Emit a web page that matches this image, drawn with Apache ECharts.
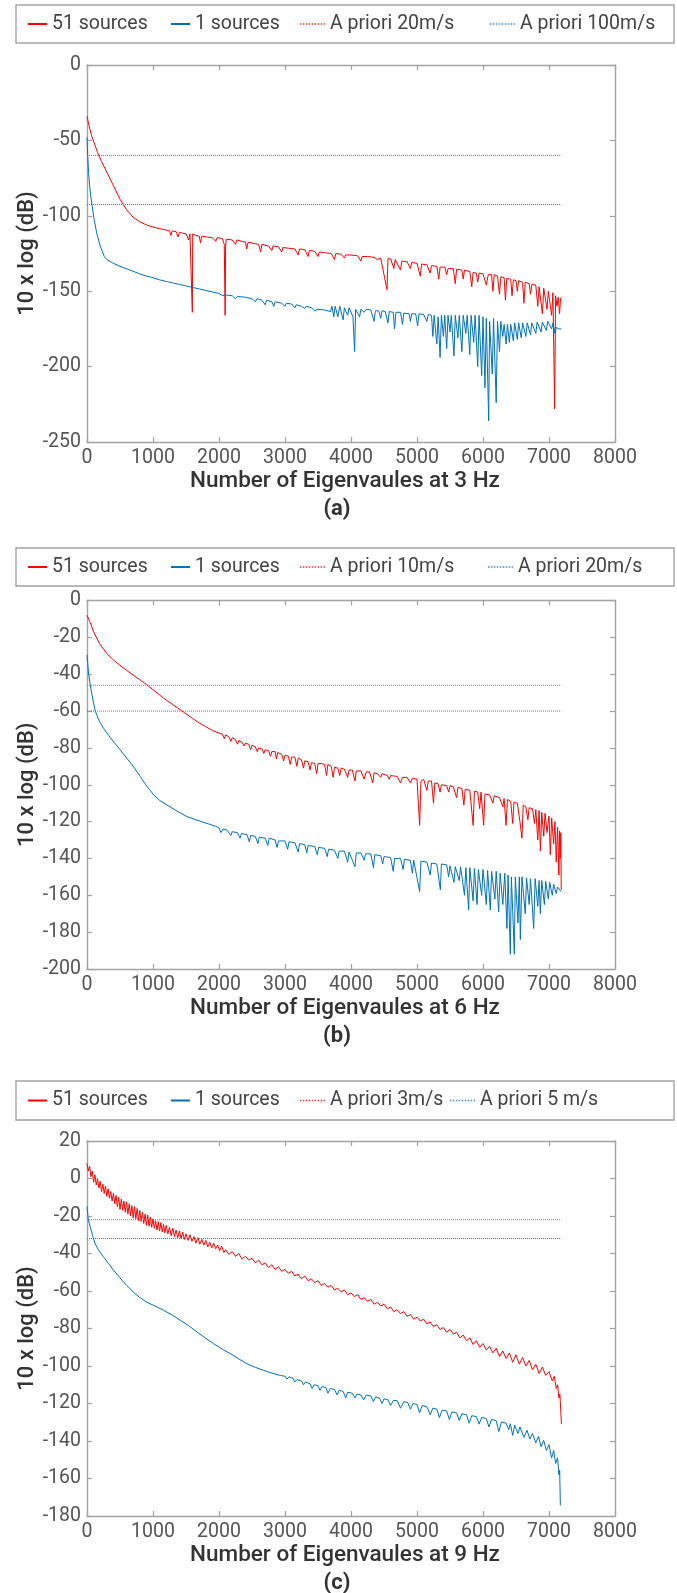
<!DOCTYPE html>
<html>
<head>
<meta charset="utf-8">
<script src="https://cdn.jsdelivr.net/npm/echarts@6/dist/echarts.min.js"></script>
<style>
html, body { margin: 0; padding: 0; background: #fff; }
#chart { width: 677px; height: 1593px; }
</style>
</head>
<body>
<div id="chart"></div>
<script>
// ---- data: [eigenvalue index, 10 x log (dB)] ----
var a51 = [[0,-34],[30,-40],[70,-47],[120,-53],[160,-58],[220,-64],[300,-71],[400,-80],[500,-89],[600,-96],[700,-101],[800,-104],[900,-106],[1000,-107.5],[1100,-108.5],[1200,-109.5],
  [1250,-110],[1270,-113],[1290,-110],[1350,-110.5],[1380,-114],[1400,-111],[1450,-111.5],[1500,-112],[1540,-116],[1560,-112],[1590,-112],[1596,-164],[1602,-112],[1650,-113],[1700,-113.5],[1720,-118],[1740,-113.5],[1800,-114],[1900,-114.5],[1950,-117],[1970,-114.5],[2050,-115],[2080,-119],[2093,-166],[2100,-120],[2110,-115.5],[2200,-116],[2250,-119],[2270,-116],[2350,-117],[2400,-117.5],[2420,-122],[2440,-117.5],[2550,-118.5],[2600,-119],[2630,-124],[2650,-119],[2750,-120],[2800,-123],[2820,-120],[2900,-120.5],[2950,-124],[2970,-121],[3050,-121.5],[3150,-122],[3200,-126],[3220,-122],[3300,-122.5],[3350,-127],[3370,-123],[3450,-123.5],[3500,-127],[3520,-124],[3600,-124.5],[3700,-125],[3750,-129],[3770,-125],[3850,-125.5],[3900,-128],[3920,-126],[4000,-126],[4100,-126.5],[4150,-130],[4170,-127],[4250,-127],[4350,-127.5],[4400,-129],[4450,-128],[4545,-149],[4560,-128.5],[4600,-128.5],[4650,-135],[4670,-129],[4700,-129.5],[4750,-136],[4770,-130],[4850,-130.5],[4900,-135],[4920,-131],[5000,-131.5],[5050,-140],[5070,-132],[5150,-132.5],[5200,-138],[5220,-133],[5300,-133.5],[5330,-142],[5350,-134],[5420,-134],[5450,-139],[5470,-135],[5550,-135],[5580,-145],[5600,-135.5],[5680,-136],[5700,-142],[5720,-136],[5800,-137],[5830,-147],[5850,-137.5],[5900,-138],[5920,-144],[5940,-138],[6000,-138.5],[6050,-146],[6080,-139],[6130,-139],[6150,-150],[6170,-139],[6220,-140],[6250,-152],[6270,-140.5],[6320,-141],[6340,-156],[6360,-141.5],[6420,-142],[6440,-153],[6460,-142.5],[6500,-143],[6520,-150],[6540,-143],[6600,-144],[6620,-158],[6640,-144],[6700,-145],[6720,-152],[6740,-145.5],[6800,-146],[6830,-160],[6850,-147],[6880,-148],[6900,-165],[6920,-148],[6950,-149],[6970,-162],[6990,-150],[7020,-151],[7040,-166],[7060,-151],[7085,-228],[7100,-153],[7120,-160],[7140,-154],[7160,-165],[7175,-155],[7188,-154]];

var a1 = [[0,-48],[10,-60],[25,-72],[40,-80],[60,-88],[80,-94],[110,-103],[150,-112],[200,-120],[262,-127],[300,-129],[400,-131.5],[500,-133.5],[650,-136],[800,-138.5],[900,-140],[1000,-141],[1100,-142.5],[1200,-143.5],[1300,-144.5],[1400,-145.5],[1500,-146.5],[1600,-147.5],[1700,-148.5],[1800,-149.5],[1900,-150.5],[2000,-151.5],[2050,-153],[2100,-152.5],[2200,-153],[2250,-155],[2280,-153.5],[2400,-154],[2500,-155],[2550,-157],[2580,-155],[2650,-156],[2700,-159],[2720,-156],[2800,-157],[2830,-160],[2850,-157],[2950,-158],[3000,-160],[3020,-158],[3100,-158.5],[3150,-161],[3170,-159],[3250,-160],[3300,-161.5],[3320,-160],[3400,-161],[3450,-163],[3500,-162],[3600,-162.5],[3690,-163.5],[3710,-160],[3740,-167],[3760,-160],[3800,-167],[3830,-160],[3850,-161],[3880,-169],[3900,-161],[3950,-166],[3970,-161],[4000,-162],[4030,-167],[4055,-190],[4070,-162],[4100,-162],[4130,-167],[4150,-162],[4200,-164],[4230,-162],[4300,-162.5],[4350,-170],[4370,-163],[4420,-163],[4450,-168],[4470,-163],[4520,-163.5],[4560,-171],[4580,-163.5],[4640,-164],[4660,-175],[4680,-164],[4750,-164],[4780,-172],[4800,-164.5],[4880,-165],[4900,-170],[4920,-165],[4980,-165],[5010,-173],[5030,-165],[5100,-165.5],[5150,-170],[5170,-165.5],[5220,-166],[5240,-180],[5260,-166],[5300,-185],[5320,-167],[5350,-194],[5370,-166],[5400,-180],[5420,-166],[5450,-188],[5470,-166],[5500,-177],[5520,-166],[5560,-193],[5580,-166],[5620,-181],[5640,-166],[5680,-190],[5700,-166],[5740,-178],[5760,-166],[5800,-192],[5820,-166],[5860,-184],[5880,-166],[5920,-200],[5940,-166],[5980,-206],[6000,-167],[6030,-214],[6050,-168],[6086,-236],[6100,-170],[6140,-205],[6160,-168],[6200,-224],[6220,-170],[6250,-190],[6270,-170],[6300,-180],[6320,-172],[6350,-185],[6370,-172],[6400,-184],[6420,-172],[6460,-183],[6480,-171],[6520,-182],[6540,-171],[6580,-181],[6600,-171],[6650,-180],[6670,-171],[6720,-179],[6740,-171],[6800,-178],[6820,-170.5],[6880,-177],[6900,-170.5],[6960,-176],[6980,-170],[7040,-175],[7060,-171],[7090,-178],[7110,-174],[7150,-175],[7188,-175]];

var b51 = [[0,-8],[50,-12],[100,-17],[200,-24],[300,-28.8],[400,-32.3],[500,-35.2],[600,-37.9],[700,-40.5],[800,-43],[900,-45.6],[1000,-48.4],[1100,-51.3],[1200,-54],[1300,-56.5],[1400,-59],[1500,-61.5],[1600,-64],[1700,-66.5],[1800,-68.5],[1900,-70.5],[2000,-72],
  [2050,-72.5],[2080,-75],[2100,-73],[2150,-74],[2180,-76.5],[2200,-74.5],[2250,-75.5],[2280,-78],[2300,-76],[2350,-77],[2380,-79],[2400,-77.5],[2450,-78],[2480,-81],[2500,-78.5],[2550,-79.5],[2580,-82],[2600,-80],[2650,-80.5],[2680,-83],[2700,-81],[2750,-81.5],[2780,-84.5],[2800,-82],[2850,-82],[2870,-86],[2890,-82.5],[2950,-83.5],[2980,-87],[3000,-84],[3050,-84.5],[3080,-89],[3100,-85],[3150,-85],[3180,-90],[3200,-85.5],[3250,-86.5],[3280,-91],[3300,-87],[3350,-87.5],[3380,-92],[3400,-88],[3450,-88.5],[3480,-94],[3500,-88.5],[3550,-88.5],[3600,-89],[3630,-95],[3650,-89],[3700,-90],[3730,-96],[3750,-90.5],[3800,-91],[3830,-95],[3850,-91],[3900,-91.5],[3950,-96],[3970,-92],[4020,-92],[4060,-98],[4080,-92.5],[4150,-92.5],[4200,-97],[4230,-93],[4280,-93],[4330,-99],[4350,-93.5],[4400,-94],[4450,-96],[4470,-94],[4550,-95],[4580,-97],[4600,-95],[4700,-95.5],[4750,-99],[4780,-96],[4850,-96],[4900,-99],[4930,-96.5],[5000,-97],[5040,-122],[5060,-98],[5100,-97],[5150,-103],[5170,-98],[5220,-98],[5250,-110],[5270,-99],[5320,-99.5],[5350,-104],[5370,-100],[5450,-100.5],[5480,-104],[5500,-100.5],[5550,-101],[5600,-107],[5620,-101.5],[5680,-102],[5710,-111],[5730,-102.5],[5800,-103],[5850,-122],[5870,-103.5],[5920,-104],[5950,-113],[5970,-104],[6000,-104.5],[6010,-122],[6030,-105],[6100,-105.5],[6150,-110],[6170,-106],[6250,-107],[6300,-112],[6320,-107.5],[6350,-122],[6370,-108],[6420,-109],[6450,-121],[6470,-109.5],[6520,-110],[6560,-120],[6590,-129],[6610,-111],[6650,-112],[6680,-119],[6700,-112.5],[6750,-113],[6780,-121],[6800,-113.5],[6830,-130],[6850,-114],[6870,-136],[6890,-115],[6920,-128],[6940,-115.5],[6970,-126],[7000,-117],[7020,-138],[7040,-118],[7070,-132],[7090,-120],[7110,-142],[7130,-123],[7150,-149],[7160,-125],[7170,-140],[7180,-126],[7185,-157]];

var b1 = [[0,-29.5],[25,-40],[50,-46],[90,-54],[126,-60],[180,-65],[253,-69.5],[330,-73.3],[404,-76.7],[500,-81],[606,-85.7],[700,-90],[808,-95.5],[900,-100.5],[1010,-105.5],[1100,-108.5],[1212,-111],[1350,-114],[1515,-117.3],[1650,-119],[1818,-121],[1950,-122.5],[2000,-123.5],[2030,-126],[2060,-124],[2121,-124.6],[2180,-127.5],[2200,-125.5],[2280,-126],[2320,-129],[2340,-126.5],[2424,-127],[2460,-131],[2480,-127.5],[2550,-128],[2590,-132],[2610,-128.5],[2700,-129],[2740,-133],[2760,-129],[2850,-130],[2880,-134],[2900,-130.5],[3000,-130.5],[3040,-135],[3060,-131],[3150,-131.5],[3200,-136.5],[3220,-132],[3300,-132.5],[3330,-137],[3350,-133],[3450,-133.5],[3490,-138],[3510,-134],[3600,-134.5],[3640,-139],[3660,-135],[3750,-135.5],[3800,-140],[3820,-136],[3900,-136],[3950,-142],[3970,-136.5],[4060,-144.5],[4080,-137],[4150,-137],[4200,-141],[4220,-137.5],[4300,-137.5],[4340,-145],[4360,-138],[4450,-138.5],[4480,-143],[4500,-139],[4600,-139.5],[4640,-147],[4660,-140],[4750,-140],[4790,-146],[4810,-140.5],[4900,-141],[4930,-148],[4950,-141],[5040,-158],[5060,-141.5],[5150,-142],[5200,-149],[5220,-142.5],[5300,-143],[5354,-157],[5370,-143],[5450,-143.5],[5480,-150],[5500,-144],[5560,-153],[5580,-144.5],[5640,-152],[5660,-144.5],[5720,-160],[5740,-145],[5783,-168],[5800,-145],[5850,-163],[5870,-145.5],[5910,-165],[5930,-146],[5980,-160],[6000,-146],[6050,-165],[6070,-146.5],[6111,-168],[6130,-147],[6180,-162],[6200,-147],[6237,-169],[6260,-148],[6300,-165],[6330,-148],[6363,-178],[6380,-149],[6414,-192],[6430,-150],[6475,-192],[6490,-150],[6530,-175],[6550,-150],[6566,-184],[6590,-150],[6640,-170],[6660,-150.5],[6700,-165],[6720,-151],[6768,-178],[6790,-151],[6830,-166],[6850,-152],[6869,-170],[6890,-152],[6930,-165],[6950,-152.5],[6990,-162],[7010,-153],[7050,-160],[7070,-154],[7110,-159],[7130,-155.5],[7185,-158]];

var c51 = [[0,8],[20,4],[40,6.5],[60,1],[80,4],[100,-2],[120,2],[140,-3.5],[160,0],[180,-5],[200,-1.5],[220,-7],[240,-3],[260,-8],[280,-4],[300,-9.5],[320,-5.5],[340,-10.5],[360,-7],[380,-12],[400,-8],[420,-13.5],[440,-9],[460,-15],[480,-10],[500,-16.5],[520,-11],[540,-17],[560,-12],[580,-18],[600,-12.5],[620,-19],[640,-13.5],[660,-20],[680,-14.5],[700,-21],[720,-15],[740,-21.5],[760,-16],[780,-22.5],[800,-17],[820,-23],[840,-18],[860,-24],[880,-19],[900,-25],[920,-19.5],[940,-25.5],[960,-20.5],[980,-26],[1000,-21.5],[1020,-26.5],[1040,-22.5],[1060,-27.5],[1080,-23],[1100,-28],[1120,-23.5],[1140,-28.5],[1160,-24.5],[1180,-29],[1200,-25],[1225,-29.5],[1250,-26],[1275,-30.5],[1300,-26.5],[1325,-31],[1350,-27.5],[1375,-31.5],[1400,-28],[1425,-32],[1450,-28.5],[1475,-32.5],[1500,-29.5],[1530,-33],[1560,-30],[1590,-33.5],[1620,-31],[1650,-34.5],[1680,-31.5],[1710,-35],[1740,-32.5],[1770,-35.5],[1800,-33],[1830,-36.5],[1860,-34],[1890,-37],[1920,-34.5],[1950,-37.5],[1980,-35.5],[2010,-38.5],[2040,-36],
  [2075,-39.5],[2100,-38],[2150,-40.5],[2200,-39],[2250,-41.5],[2300,-40],[2350,-43],[2400,-41.5],[2450,-43.5],[2500,-42.5],[2550,-45],[2600,-43.5],[2650,-46],[2700,-45],[2750,-47.5],[2800,-46],[2850,-48.5],[2900,-47],[2950,-49.5],[3000,-48.5],[3050,-50.5],[3100,-49.5],[3150,-52],[3200,-51],[3250,-53.5],[3300,-52],[3350,-54.5],[3400,-53.5],[3450,-55.5],[3500,-54.5],[3550,-57],[3600,-56],[3650,-58],[3700,-57],[3750,-59.5],[3800,-58.5],[3850,-60.5],[3900,-59.5],[3950,-62],[4000,-61],[4050,-63],[4100,-62],[4150,-64.5],[4200,-63.5],[4250,-65.5],[4300,-64.5],[4350,-67],[4400,-66],[4450,-68],[4500,-67],[4550,-69.5],[4600,-68.5],[4650,-71],[4700,-70],[4750,-72],[4800,-71],[4850,-73.5],[4900,-72.5],[4950,-75],[5000,-74],[5050,-76],[5100,-75],[5150,-77.5],[5200,-76.5],[5250,-79],[5300,-78],[5350,-80.5],[5400,-79.5],[5450,-82],[5500,-80.5],[5550,-83],[5600,-82],[5650,-85],[5700,-83.5],[5750,-86.5],[5800,-85],[5850,-88.5],[5900,-86.5],[5950,-90],[6000,-88],[6050,-91.5],[6100,-89.5],[6150,-93],[6200,-90.5],[6250,-95],[6300,-92],[6350,-96],[6400,-93],[6450,-98],[6500,-94],[6550,-99],[6600,-95.5],[6650,-100],[6700,-97],[6750,-102],[6800,-99],[6850,-104],[6900,-100.5],[6950,-105],[7000,-103],[7050,-108],[7080,-105.5],[7110,-112],[7130,-110],[7150,-117],[7165,-115],[7180,-125],[7188,-131]];

var c1 = [[0,-15],[20,-22],[50,-26],[90,-31],[126,-35],[180,-38.5],[253,-42],[330,-45.5],[404,-49],[500,-53],[600,-57],[700,-60.5],[800,-63.5],[909,-66],[1030,-68],[1162,-70.3],[1290,-72.8],[1414,-75.6],[1540,-78.5],[1667,-81.9],[1790,-85],[1919,-88.1],[2050,-91],[2172,-93.4],[2300,-96.2],[2424,-98.8],[2550,-100.7],[2677,-102.3],[2800,-103.8],[2929,-105],[3000,-105.5],[3030,-107],[3060,-105.8],[3120,-106.5],[3150,-108.5],[3182,-107.2],[3250,-108],[3280,-110],[3310,-108.5],[3380,-109.5],[3410,-112],[3440,-110],[3500,-110.5],[3530,-113],[3560,-111],[3620,-111.5],[3650,-114.5],[3687,-112],[3750,-112.5],[3790,-115.5],[3820,-113],[3880,-113.5],[3920,-117],[3950,-114],[4020,-114.5],[4060,-117],[4090,-115],[4150,-115.5],[4192,-118],[4230,-115.5],[4300,-116],[4340,-119],[4370,-116.5],[4430,-117],[4470,-120],[4500,-117.5],[4560,-118],[4600,-121],[4646,-118.3],[4700,-118.5],[4750,-122.5],[4800,-119],[4860,-119.5],[4900,-123],[4940,-120],[5000,-120.5],[5040,-125],[5080,-121],[5152,-121.9],[5200,-126],[5240,-122.5],[5300,-123],[5340,-127.5],[5380,-123.5],[5450,-124],[5490,-128.5],[5530,-124.5],[5600,-125],[5640,-129],[5680,-125.5],[5750,-126],[5790,-130.5],[5830,-126.5],[5900,-127],[5940,-131],[5980,-127.5],[6050,-128],[6090,-132.5],[6130,-128.5],[6200,-129.2],[6240,-135],[6280,-129.8],[6350,-130.5],[6390,-134],[6414,-130.8],[6450,-137],[6480,-131.5],[6530,-136],[6560,-132.5],[6620,-138],[6667,-134.3],[6710,-139],[6750,-136],[6800,-141],[6840,-137.5],[6880,-143],[6919,-139.6],[6960,-145],[7000,-142],[7040,-149],[7071,-145],[7100,-152],[7130,-149],[7150,-158],[7162,-155.6],[7172,-174.3]];

// a priori levels (dB) per panel: [red, blue]
var aPriori = [-60, -92.5];
var bPriori = [-46, -60];
var cPriori = [-22, -32];
var prioriEnd = 7188;

var aNames = ['51 sources', '1 sources', 'A priori 20m/s', 'A priori 100m/s'];
var bNames = ['51 sources', '1 sources', 'A priori 10m/s', 'A priori 20m/s'];
var cNames = ['51 sources', '1 sources', 'A priori 3m/s', 'A priori 5 m/s'];

var xTitles = ['Number of Eigenvaules at 3 Hz', 'Number of Eigenvaules at 6 Hz', 'Number of Eigenvaules at 9 Hz'];
var captions = ['(a)', '(b)', '(c)'];
var yRanges = [[-250, 0, 50], [-200, 0, 20], [-180, 20, 20]];
var xRange = [0, 8000, 1000];

// ---- layout ----
var FONT = 'Roboto';
var RED = '#ff0000', BLUE = '#0072bd';
var PRED = '#ff4a4a', PBLUE = '#5c5cff';
var AXIS = '#a3a3a3';
var DOT_ICON = 'path://M0,0h2v2h-2z M4,0h2v2h-2z M8,0h2v2h-2z M12,0h2v2h-2z M16,0h2v2h-2z M20,0h2v2h-2z M24,0h2v2h-2z M28,0h2v2h-2z M32,0h2v2h-2z';

var layout = [
  { top: 65, height: 377, legendY: 5, legendH: 38, iconX: [28, 171, 300, 490], titleY: 481, capY: 509 },
  { top: 600.5, height: 368.5, legendY: 548, legendH: 38, iconX: [28, 171, 300, 488], titleY: 1008, capY: 1036 },
  { top: 1141, height: 375, legendY: 1081, legendH: 39, iconX: [28, 171, 300, 450], titleY: 1555, capY: 1583 }
];
var GL = 87, GW = 528;

var panelData = [
  { s51: a51, s1: a1, pri: aPriori, names: aNames },
  { s51: b51, s1: b1, pri: bPriori, names: bNames },
  { s51: c51, s1: c1, pri: cPriori, names: cNames }
];

var grids = [], xAxes = [], yAxes = [], series = [], legends = [], graphics = [];

function axisBase(showLabel) {
  return {
    type: 'value',
    axisLine: { show: true, onZero: false, lineStyle: { color: AXIS, width: 1.4 } },
    axisTick: { show: true, inside: true, length: 5, lineStyle: { color: AXIS, width: 1.2 } },
    axisLabel: { show: showLabel, color: '#555', fontFamily: FONT, fontSize: 19.5,
      formatter: function (v) { return String(v); } },
    splitLine: { show: false }
  };
}

panelData.forEach(function (p, i) {
  var L = layout[i];
  grids.push({ left: GL, width: GW, top: L.top, height: L.height, containLabel: false });

  ['bottom', 'top'].forEach(function (pos) {
    var ax = axisBase(pos === 'bottom');
    ax.gridIndex = i; ax.position = pos;
    ax.min = xRange[0]; ax.max = xRange[1]; ax.interval = xRange[2];
    ax.axisLabel.margin = 6;
    xAxes.push(ax);
  });
  ['left', 'right'].forEach(function (pos) {
    var ax = axisBase(pos === 'left');
    ax.gridIndex = i; ax.position = pos;
    ax.min = yRanges[i][0]; ax.max = yRanges[i][1]; ax.interval = yRanges[i][2];
    ax.axisLabel.margin = 6;
    yAxes.push(ax);
  });

  var xi = i * 2, yi = i * 2;
  series.push({ type: 'line', name: p.names[0], xAxisIndex: xi, yAxisIndex: yi, data: p.s51,
    symbol: 'none', lineStyle: { color: RED, width: 1 }, itemStyle: { color: RED } });
  series.push({ type: 'line', name: p.names[1], xAxisIndex: xi, yAxisIndex: yi, data: p.s1,
    symbol: 'none', lineStyle: { color: BLUE, width: 1 }, itemStyle: { color: BLUE } });
  series.push({ type: 'line', name: p.names[2], xAxisIndex: xi, yAxisIndex: yi,
    data: [[0, p.pri[0]], [prioriEnd, p.pri[0]]],
    symbol: 'none', lineStyle: { color: PRED, width: 1, type: 'dotted' }, itemStyle: { color: PRED } });
  series.push({ type: 'line', name: p.names[3], xAxisIndex: xi, yAxisIndex: yi,
    data: [[0, p.pri[1]], [prioriEnd, p.pri[1]]],
    symbol: 'none', lineStyle: { color: PBLUE, width: 1, type: 'dotted' }, itemStyle: { color: PBLUE } });

  // legend box + one legend per entry
  graphics.push({ type: 'rect', shape: { x: 16, y: L.legendY, width: 658, height: L.legendH },
    style: { fill: 'none', stroke: AXIS, lineWidth: 1.4 } });
  var cy = L.legendY + L.legendH / 2;
  var iconColors = [RED, BLUE, '#ff3030', '#3d8fd8'];
  p.names.forEach(function (nm, k) {
    var dotted = k >= 2;
    legends.push({
      left: L.iconX[k], top: cy - 11, padding: 0, selectedMode: false,
      itemWidth: dotted ? 25 : 19, itemHeight: dotted ? 1.5 : 2, symbolKeepAspect: false,
      textStyle: { fontFamily: FONT, fontSize: 19.5, color: '#444', lineHeight: 22 },
      data: [{ name: nm, icon: dotted ? DOT_ICON : 'rect',
        itemStyle: { color: iconColors[k], borderWidth: 0, opacity: 1 } }]
    });
  });

  // axis titles and panel caption
  graphics.push({ type: 'text', x: 345, y: L.titleY,
    style: { text: xTitles[i], fontFamily: FONT, fontSize: 22.5, fontWeight: 500, fill: '#333',
      textAlign: 'center', align: 'center', textVerticalAlign: 'middle', verticalAlign: 'middle' } });
  graphics.push({ type: 'text', x: 337, y: L.capY,
    style: { text: captions[i], fontFamily: FONT, fontSize: 22, fontWeight: 'bold', fill: '#333',
      textAlign: 'center', align: 'center', textVerticalAlign: 'middle', verticalAlign: 'middle' } });
  graphics.push({ type: 'text', x: 27.5, y: L.top + L.height / 2, rotation: Math.PI / 2,
    style: { text: '10 x log (dB)', fontFamily: FONT, fontSize: 22, fontWeight: 500, fill: '#333',
      textAlign: 'center', align: 'center', textVerticalAlign: 'middle', verticalAlign: 'middle' } });
});

var chart = echarts.init(document.getElementById('chart'), null, { renderer: 'canvas' });
chart.setOption({
  animation: false,
  backgroundColor: '#fff',
  grid: grids,
  xAxis: xAxes,
  yAxis: yAxes,
  legend: legends,
  series: series,
  graphic: graphics
});
</script>
</body>
</html>
